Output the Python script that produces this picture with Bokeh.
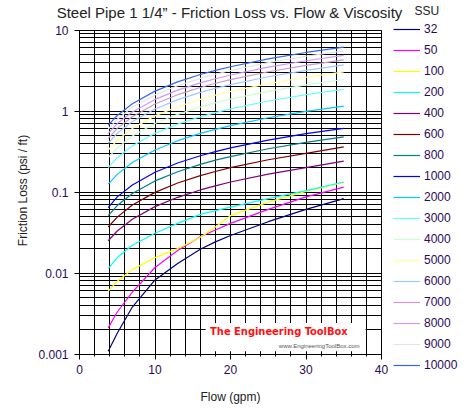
import math

from bokeh.plotting import figure
from bokeh.models import (FixedTicker, Legend, LegendItem, Label, Range1d,
                          BoxAnnotation)
from bokeh.embed import file_html
from bokeh.resources import INLINE

# Flow rate (gpm) at which friction loss is tabulated
flow = [3.8, 5, 7, 10, 13, 16, 18, 20, 25, 30, 35]

# Viscosity (SSU) of each series
ssu = ["32", "50", "100", "200", "400", "600", "800", "1000", "2000",
       "3000", "4000", "5000", "6000", "7000", "8000", "9000", "10000"]

# Friction loss (psi / ft) for each viscosity
loss_32 = [0.00108, 0.0018, 0.0038, 0.0082, 0.0131, 0.0196, 0.0242, 0.029, 0.043, 0.061, 0.083]
loss_50 = [0.0021, 0.0033, 0.0058, 0.0117, 0.019, 0.028, 0.034, 0.041, 0.061, 0.087, 0.115]
loss_100 = [0.0060, 0.0079, 0.0110, 0.0155, 0.020, 0.0276, 0.037, 0.051, 0.075, 0.102, 0.131]
loss_200 = [0.0113, 0.0155, 0.022, 0.031, 0.041, 0.053, 0.059, 0.065, 0.083, 0.104, 0.133]
loss_400 = [0.025, 0.033, 0.046, 0.066, 0.086, 0.106, 0.119, 0.133, 0.166, 0.20, 0.24]
loss_600 = [0.037, 0.049, 0.069, 0.099, 0.129, 0.159, 0.179, 0.20, 0.25, 0.30, 0.36]
loss_800 = [0.051, 0.068, 0.096, 0.137, 0.178, 0.219, 0.247, 0.274, 0.342, 0.41, 0.48]
loss_1000 = [0.064, 0.087, 0.122, 0.175, 0.228, 0.28, 0.315, 0.35, 0.437, 0.525, 0.61]
loss_2000 = [0.125, 0.165, 0.231, 0.33, 0.43, 0.53, 0.594, 0.66, 0.825, 0.99, 1.15]
loss_3000 = [0.20, 0.265, 0.371, 0.53, 0.689, 0.848, 0.954, 1.06, 1.33, 1.59, 1.85]
loss_4000 = [0.266, 0.35, 0.49, 0.70, 0.91, 1.12, 1.26, 1.40, 1.75, 2.10, 2.45]
loss_5000 = [0.33, 0.435, 0.61, 0.87, 1.13, 1.39, 1.57, 1.74, 2.18, 2.61, 3.04]
loss_6000 = [0.40, 0.53, 0.74, 1.06, 1.38, 1.70, 1.91, 2.12, 2.65, 3.18, 3.71]
loss_7000 = [0.46, 0.61, 0.85, 1.22, 1.59, 1.95, 2.20, 2.44, 3.05, 3.66, 4.27]
loss_8000 = [0.53, 0.70, 0.97, 1.39, 1.81, 2.22, 2.50, 2.78, 3.48, 4.17, 4.87]
loss_9000 = [0.60, 0.79, 1.11, 1.58, 2.05, 2.53, 2.84, 3.16, 3.95, 4.74, 5.53]
loss_10000 = [0.67, 0.88, 1.23, 1.76, 2.29, 2.82, 3.17, 3.52, 4.40, 5.28, 6.16]

losses = [loss_32, loss_50, loss_100, loss_200, loss_400, loss_600, loss_800,
          loss_1000, loss_2000, loss_3000, loss_4000, loss_5000, loss_6000,
          loss_7000, loss_8000, loss_9000, loss_10000]

colors = ["#000080", "#ff00ff", "#ffff00", "#00ffff", "#800080", "#800000",
          "#008080", "#0000ff", "#00ccff", "#66ffff", "#ccffcc", "#ffff99",
          "#99ccff", "#cc99cc", "#cc99ff", "#e3e3e3", "#3366ff"]

x_ticks = [0, 10, 20, 30, 40]
y_ticks = [0.001, 0.01, 0.1, 1, 10]
y_tick_labels = ["0.001", "0.01", "0.1", "1", "10"]

TICK_TEXT = "#2a0a55"
TEXT = "#222222"
FONT = "Liberation Sans"

# Layout: the drawing frame fills the whole canvas, so axes are pinned to the
# chart's corner and the chart area is limited with axis and grid bounds.
W, H = 470, 420
X0, X1 = 0, 40
Y0, Y1 = 0.001, 10
LEFT, TOP, BOTTOM = 79, 29.5, 353.5     # canvas pixels of x=0, y=10, y=0.001
PX_PER_X = (381 - LEFT) / (X1 - X0)
PX_PER_DEC = (BOTTOM - TOP) / 4

x_start = X0 - LEFT / PX_PER_X
x_end = X0 + (W - LEFT) / PX_PER_X
y_top = Y1 * 10 ** (TOP / PX_PER_DEC)
y_bot = Y0 / 10 ** ((H - BOTTOM) / PX_PER_DEC)

p = figure(width=W, height=H, frame_width=W, frame_height=H,
           y_axis_type="log",
           x_range=Range1d(x_start, x_end), y_range=Range1d(y_bot, y_top),
           output_backend="svg", toolbar_location=None,
           min_border_left=0, min_border_right=0,
           min_border_top=0, min_border_bottom=0)
p.outline_line_color = None
p.background_fill_color = "white"
p.border_fill_color = "white"

# axes
p.xaxis.ticker = FixedTicker(ticks=x_ticks, minor_ticks=list(range(0, 41, 2)))
p.yaxis.ticker = FixedTicker(
    ticks=y_ticks,
    minor_ticks=[m * 10.0 ** e for e in range(-3, 1) for m in range(2, 10)])
p.yaxis.major_label_overrides = dict(zip(y_ticks, y_tick_labels))
p.xaxis.bounds = (X0, X1)
p.yaxis.bounds = (Y0, Y1)
p.xaxis.fixed_location = Y0
p.yaxis.fixed_location = X0

for ax in (p.xaxis[0], p.yaxis[0]):
    ax.axis_line_color = "black"
    ax.major_tick_line_color = "black"
    ax.major_tick_out = 5
    ax.major_tick_in = 0
    ax.major_label_text_font = FONT
    ax.major_label_text_font_size = "12px"
    ax.major_label_text_color = TICK_TEXT

p.xaxis.minor_tick_line_color = "black"
p.xaxis.minor_tick_in = 0
p.xaxis.minor_tick_out = 2
p.yaxis.minor_tick_line_color = None
p.xaxis.major_label_standoff = 6
p.yaxis.major_label_standoff = 6

# grid: every 2 gpm and every log subdivision, inside the chart area only
for g in (p.xgrid[0], p.ygrid[0]):
    g.grid_line_color = "black"
    g.minor_grid_line_color = "black"
    g.grid_line_width = 1
    g.minor_grid_line_width = 1
p.xgrid.bounds = (X0, X1)
p.xgrid.cross_bounds = (Y0, Y1)
p.ygrid.bounds = (Y0, Y1)
p.ygrid.cross_bounds = (X0, X1)

# curves
items = []
for label, vals, c in zip(ssu, losses, colors):
    r = p.line(flow, vals, line_color=c, line_width=1.2)
    items.append(LegendItem(label=label, renderers=[r]))

legend = Legend(items=items, location=(393, H - 371.5),
                glyph_width=27, glyph_height=14, label_height=14,
                spacing=7, label_standoff=4, padding=0, margin=0,
                border_line_color=None, background_fill_alpha=0,
                label_text_font=FONT, label_text_font_size="12px",
                label_text_color=TICK_TEXT)
p.add_layout(legend)


def screen_label(x, y, text, **kw):
    """Text placed in canvas pixels measured from the top-left corner."""
    opts = dict(text_font=FONT, text_font_size="12px", text_color=TEXT,
                text_baseline="middle")
    opts.update(kw)
    p.add_layout(Label(x=x, y=H - y, x_units="screen", y_units="screen",
                       text=text, **opts))


screen_label(229, 12, "Steel Pipe 1 1/4\u201d - Friction Loss vs. Flow & Viscosity",
             text_font_size="15px", text_align="center")
screen_label(414, 10, "SSU")
screen_label(230, 396, "Flow (gpm)", text_align="center")
screen_label(22, 190, "Friction Loss (psi / ft)", text_align="center",
             angle=math.pi / 2)

# logo
p.add_layout(BoxAnnotation(left=16.7, right=37.9, bottom=0.00108, top=0.00241,
                           fill_color="white", fill_alpha=1, line_color=None))
p.add_layout(Label(x=17.3, y=0.00187, text="The Engineering ToolBox",
                   text_font="'Liberation Sans Narrow', 'DejaVu Sans Condensed', 'Liberation Sans', sans-serif",
                   text_font_style="bold",
                   text_font_size="11px", text_color="#ff1010",
                   text_baseline="middle"))
p.add_layout(Label(x=26.4, y=0.00127, text="www.EngineeringToolBox.com",
                   text_font=FONT, text_font_size="6px", text_color="#555555",
                   text_baseline="middle"))

open("out.html", "w").write(file_html(p, INLINE))
